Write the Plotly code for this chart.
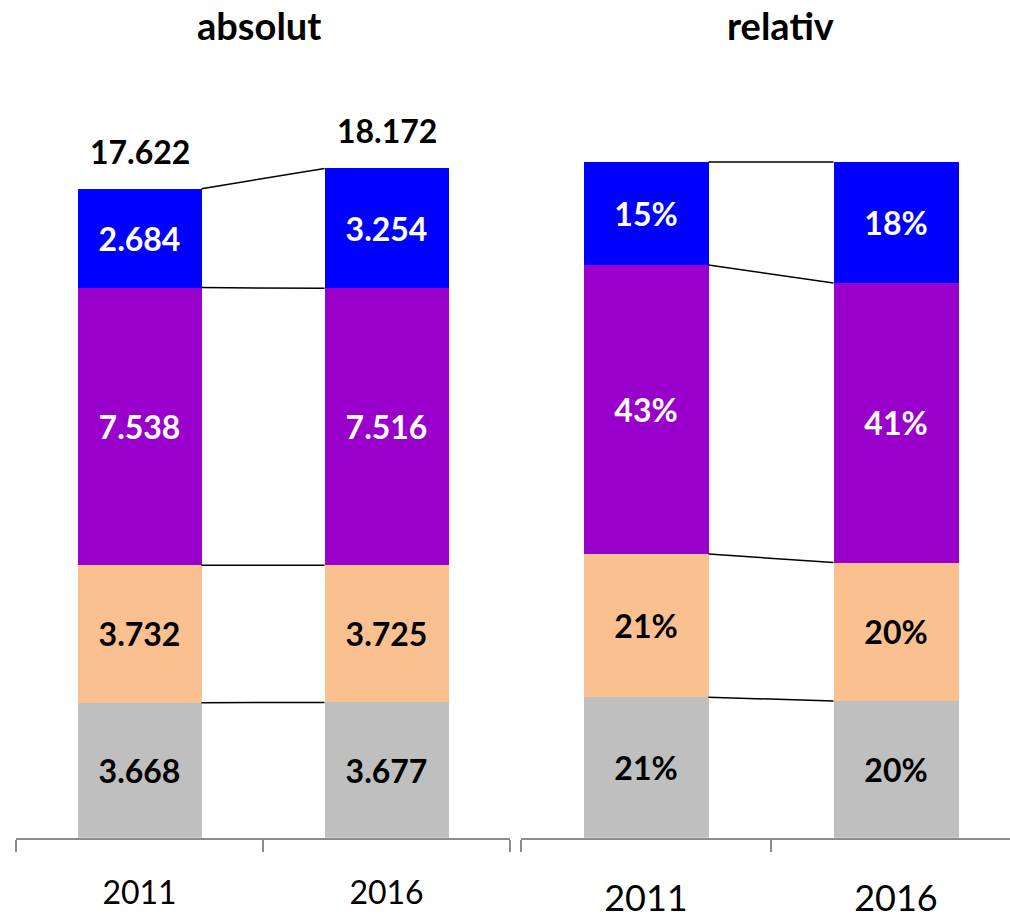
import plotly.graph_objects as go

years = ["2011", "2016"]
segment_names = ["grau", "orange", "lila", "blau"]
values_2011 = [3668, 3732, 7538, 2684]
values_2016 = [3677, 3725, 7516, 3254]
colors = ["#BFBFBF", "#FAC090", "#9900CC", "#0000FF"]
label_colors = ["black", "black", "white", "white"]

FONT = "Lato"
xpos = [0, 1]
W_L = 0.502
W_R = 0.5

totals = [sum(values_2011), sum(values_2016)]
series = [[values_2011[i], values_2016[i]] for i in range(4)]
shares = [[series[i][j] / totals[j] for j in range(2)] for i in range(4)]


def de(v):
    return f"{v:,}".replace(",", ".")


fig = go.Figure()

# absolute bars
for i in range(4):
    fig.add_trace(go.Bar(
        x=xpos, y=series[i], width=W_L, marker=dict(color=colors[i], line=dict(width=0)),
        text=[de(v) for v in series[i]], textposition="inside", insidetextanchor="middle",
        textangle=0, constraintext="none",
        textfont=dict(family=FONT, size=32, color=label_colors[i], weight="bold"),
        xaxis="x", yaxis="y", showlegend=False, hoverinfo="skip"))

# relative bars
for i in range(4):
    fig.add_trace(go.Bar(
        x=xpos, y=shares[i], width=W_R, marker=dict(color=colors[i], line=dict(width=0)),
        text=[f"{round(s * 100)}%" for s in shares[i]], textposition="inside", insidetextanchor="middle",
        textangle=0, constraintext="none",
        textfont=dict(family=FONT, size=32, color=label_colors[i], weight="bold"),
        xaxis="x2", yaxis="y2", showlegend=False, hoverinfo="skip"))

# connector lines
cum_abs = [0, 0]
cum_rel = [0, 0]
for i in range(4):
    cum_abs = [cum_abs[j] + series[i][j] for j in range(2)]
    cum_rel = [cum_rel[j] + shares[i][j] for j in range(2)]
    fig.add_trace(go.Scatter(
        x=[xpos[0] + W_L / 2, xpos[1] - W_L / 2], y=cum_abs, mode="lines",
        line=dict(color="black", width=1.5), xaxis="x", yaxis="y",
        showlegend=False, hoverinfo="skip"))
    fig.add_trace(go.Scatter(
        x=[xpos[0] + W_R / 2, xpos[1] - W_R / 2], y=cum_rel, mode="lines",
        line=dict(color="black", width=1.5), xaxis="x2", yaxis="y2",
        showlegend=False, hoverinfo="skip"))

annotations = []
for j in range(2):
    annotations.append(dict(
        x=xpos[j], y=totals[j], xref="x", yref="y", text=de(totals[j]),
        showarrow=False, yanchor="bottom", yshift=16,
        font=dict(family=FONT, size=32, color="black", weight="bold")))

annotations.append(dict(x=259 / 1010, y=1 - 25 / 919, xref="paper", yref="paper",
                        text="absolut", showarrow=False, xanchor="center", yanchor="middle",
                        font=dict(family=FONT, size=38, color="black", weight="bold")))
annotations.append(dict(x=780 / 1010, y=1, xref="paper", yref="paper",
                        text="relativ", showarrow=False, xanchor="center", yanchor="top",
                        font=dict(family=FONT, size=38, color="black", weight="bold")))

ydom = [71 / 919, 819 / 919]
axis_common = dict(showline=True, linecolor="#8C8C8C", linewidth=1.5, showgrid=False,
                   zeroline=False, tickvals=xpos, ticktext=years, ticks="",
                   minor=dict(tickvals=[-0.5, 0.5, 1.5], ticks="outside", ticklen=12,
                              tickcolor="#8C8C8C", tickwidth=1.5, showgrid=False))

fig.update_layout(
    width=1010, height=919, margin=dict(l=0, r=0, t=0, b=0),
    paper_bgcolor="white", plot_bgcolor="white", barmode="stack",
    xaxis=dict(domain=[16 / 1010, 510 / 1010], range=[-0.5, 1.5],
               tickfont=dict(family=FONT, size=32, color="black"), ticklabelstandoff=26,
               **axis_common),
    xaxis2=dict(domain=[521 / 1010, 1], range=[-0.5, -0.5 + 489 / 250],
                tickfont=dict(family=FONT, size=36, color="black"), ticklabelstandoff=28,
                **axis_common),
    yaxis=dict(domain=ydom, range=[0, 20063], visible=False),
    yaxis2=dict(domain=ydom, range=[0, 1.0936], visible=False, anchor="x2"),
    annotations=annotations,
)

fig.write_html("out.html")
